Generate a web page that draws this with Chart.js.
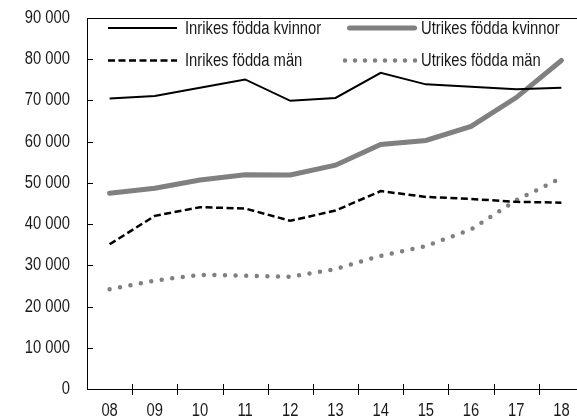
<!DOCTYPE html>
<html>
<head>
<meta charset="utf-8">
<script src="https://cdn.jsdelivr.net/npm/chart.js@4"></script>
<style>
  html, body { margin: 0; padding: 0; background: #fff; overflow: hidden; width: 577px; height: 420px; }
  #wrap { position: absolute; left: 0; top: 0; width: 600px; height: 420px; }
</style>
</head>
<body>
<div id="wrap"><canvas id="c" width="600" height="420"></canvas></div>
<script>
const categories = ['08', '09', '10', '11', '12', '13', '14', '15', '16', '17', '18'];
const inrikesKvinnor = [70500, 71100, 73100, 75100, 69900, 70600, 76700, 73900, 73300, 72700, 73100];
const utrikesKvinnor = [47500, 48700, 50700, 52000, 51900, 54300, 59300, 60300, 63700, 70700, 79700];
const inrikesMan = [35100, 42000, 44100, 43800, 40800, 43300, 48000, 46600, 46100, 45400, 45200];
const utrikesMan = [24200, 26300, 27700, 27500, 27200, 29100, 32300, 34700, 38700, 45800, 51200];
const seriesNames = ['Inrikes födda kvinnor', 'Utrikes födda kvinnor', 'Inrikes födda män', 'Utrikes födda män'];
const yTicks = [0, 10000, 20000, 30000, 40000, 50000, 60000, 70000, 80000, 90000];

const FONT = '"Liberation Sans", Arial, sans-serif';
const FONT_SIZE = 18;
const NARROW = 0.82;   // horizontal condensing of text to mimic a narrow face
const GRAY = '#808080';
const TEXT = '#1a1a1a';

function fmt(v) {
  return String(v).replace(/\B(?=(\d{3})+(?!\d))/g, ' ');
}

const canvas = document.getElementById('c');
const ctx2d = canvas.getContext('2d');
const origFillText = ctx2d.fillText;
ctx2d.fillText = function (text, x, y, maxWidth) {
  this.save();
  this.translate(x, y);
  this.scale(NARROW, 1);
  if (maxWidth !== undefined) origFillText.call(this, text, 0, 0, maxWidth / NARROW);
  else origFillText.call(this, text, 0, 0);
  this.restore();
};

const styles = [
  { borderColor: '#000', borderWidth: 2, borderDash: [], borderCapStyle: 'butt' },
  { borderColor: GRAY, borderWidth: 5, borderDash: [], borderCapStyle: 'round' },
  { borderColor: '#000', borderWidth: 2.5, borderDash: [7, 3.5], borderCapStyle: 'butt' },
  { borderColor: GRAY, borderWidth: 4.5, borderDash: [0, 10.6], borderCapStyle: 'round' }
];
const allData = [inrikesKvinnor, utrikesKvinnor, inrikesMan, utrikesMan];

const datasets = allData.map((d, i) => Object.assign({
  label: seriesNames[i],
  data: d,
  pointRadius: 0,
  pointHoverRadius: 0,
  tension: 0,
  fill: false,
  borderJoinStyle: 'miter'
}, styles[i]));

const decorPlugin = {
  id: 'decor',
  afterDraw(chart) {
    const ctx = chart.ctx;
    const a = chart.chartArea;
    const xs = chart.scales.x;
    const ys = chart.scales.y;
    ctx.save();
    ctx.strokeStyle = '#000';
    ctx.lineWidth = 1;
    ctx.beginPath();
    ctx.moveTo(a.left, Math.round(a.top) + 0.5);
    ctx.lineTo(a.right, Math.round(a.top) + 0.5);
    ctx.stroke();
    yTicks.forEach(v => {
      if (v === 0 || v === 90000) return;
      const y = Math.round(ys.getPixelForValue(v)) + 0.5;
      ctx.beginPath();
      ctx.moveTo(a.left, y);
      ctx.lineTo(a.left + 6, y);
      ctx.stroke();
    });
    for (let i = 1; i < categories.length; i++) {
      const x = Math.round((xs.getPixelForValue(i - 1) + xs.getPixelForValue(i)) / 2) + 0.5;
      ctx.beginPath();
      ctx.moveTo(x, a.bottom - 5);
      ctx.lineTo(x, a.bottom + 6);
      ctx.stroke();
    }
    const rows = [28, 60.5];
    const cols = [{ x0: 108, x1: 177, tx: 185 }, { x0: 347, x1: 417, tx: 421 }];
    const pos = [[0, 0], [1, 0], [0, 1], [1, 1]];
    ctx.font = FONT_SIZE + 'px ' + FONT;
    ctx.textBaseline = 'middle';
    ctx.textAlign = 'left';
    chart.data.datasets.forEach((ds, i) => {
      const c = cols[pos[i][0]];
      const y = rows[pos[i][1]];
      ctx.save();
      ctx.strokeStyle = ds.borderColor;
      ctx.lineWidth = ds.borderWidth;
      ctx.lineCap = ds.borderCapStyle;
      ctx.beginPath();
      if (i === 3) {
        ctx.setLineDash([0, 10]);
        ctx.moveTo(345, y);
        ctx.lineTo(416, y);
      } else {
        ctx.setLineDash(ds.borderDash);
        const inset = ds.borderCapStyle === 'round' ? 2.5 : 0;
        ctx.moveTo(c.x0 + inset, y);
        ctx.lineTo(c.x1 - inset, y);
      }
      ctx.stroke();
      ctx.restore();
      ctx.fillStyle = TEXT;
      ctx.fillText(ds.label, c.tx, y + 1);
    });
    ctx.restore();
  }
};

new Chart(canvas, {
  type: 'line',
  data: { labels: categories, datasets: datasets },
  options: {
    responsive: false,
    animation: false,
    events: [],
    layout: { padding: { top: 18, right: 16, left: 0, bottom: 0 } },
    plugins: { legend: { display: false }, tooltip: { enabled: false }, title: { display: false } },
    scales: {
      x: {
        type: 'category',
        offset: true,
        grid: { display: false, drawTicks: false },
        border: { display: true, color: '#000', width: 1 },
        ticks: { color: TEXT, font: { family: FONT, size: FONT_SIZE }, padding: 11, maxRotation: 0, autoSkip: false },
        afterFit(s) { s.height = 31; s.paddingLeft = 0; s.paddingRight = 0; s.paddingTop = 0; s.paddingBottom = 0; }
      },
      y: {
        min: 0,
        max: 90000,
        afterBuildTicks(s) { s.ticks = yTicks.map(v => ({ value: v })); },
        grid: { display: false, drawTicks: false },
        border: { display: true, color: '#000', width: 1 },
        ticks: { color: TEXT, font: { family: FONT, size: FONT_SIZE }, padding: 17, callback: v => fmt(v) },
        afterFit(s) { s.width = 87; s.paddingTop = 0; s.paddingBottom = 0; s.paddingLeft = 0; s.paddingRight = 0; }
      }
    }
  },
  plugins: [decorPlugin]
});
</script>
</body>
</html>
